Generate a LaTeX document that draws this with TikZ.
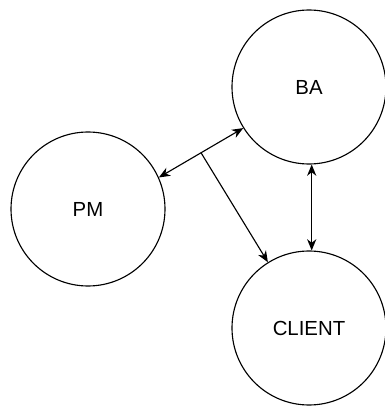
\documentclass[tikz,border=0pt]{standalone}
\usepackage{fontspec}
\setmainfont{Liberation Sans}
\usetikzlibrary{arrows.meta}
\tikzset{party/.style={draw,circle,minimum size=3.85cm,inner sep=0pt}}
\begin{document}
\begin{tikzpicture}[line cap=round,line join=round,font=\fontsize{14.5}{17}\selectfont,>={Stealth[length=8pt,width=6.5pt,inset=2.5pt]},line width=0.8pt]
	\useasboundingbox (0,0) rectangle (9.6,10.15);
	\node[party] (BA) at (7.725,7.975) {BA};
	\node[party] (PM) at (2.2,4.925) {PM};
	\node[party] (CLIENT) at (7.725,1.95) {CLIENT};
	\draw[<->] (PM.24) -- coordinate[pos=.5] (mid) (BA.212);
	\draw[->] (mid) -- (CLIENT.122);
	\draw[<->] (BA.-88) -- (CLIENT.88);
\end{tikzpicture}
\end{document}
